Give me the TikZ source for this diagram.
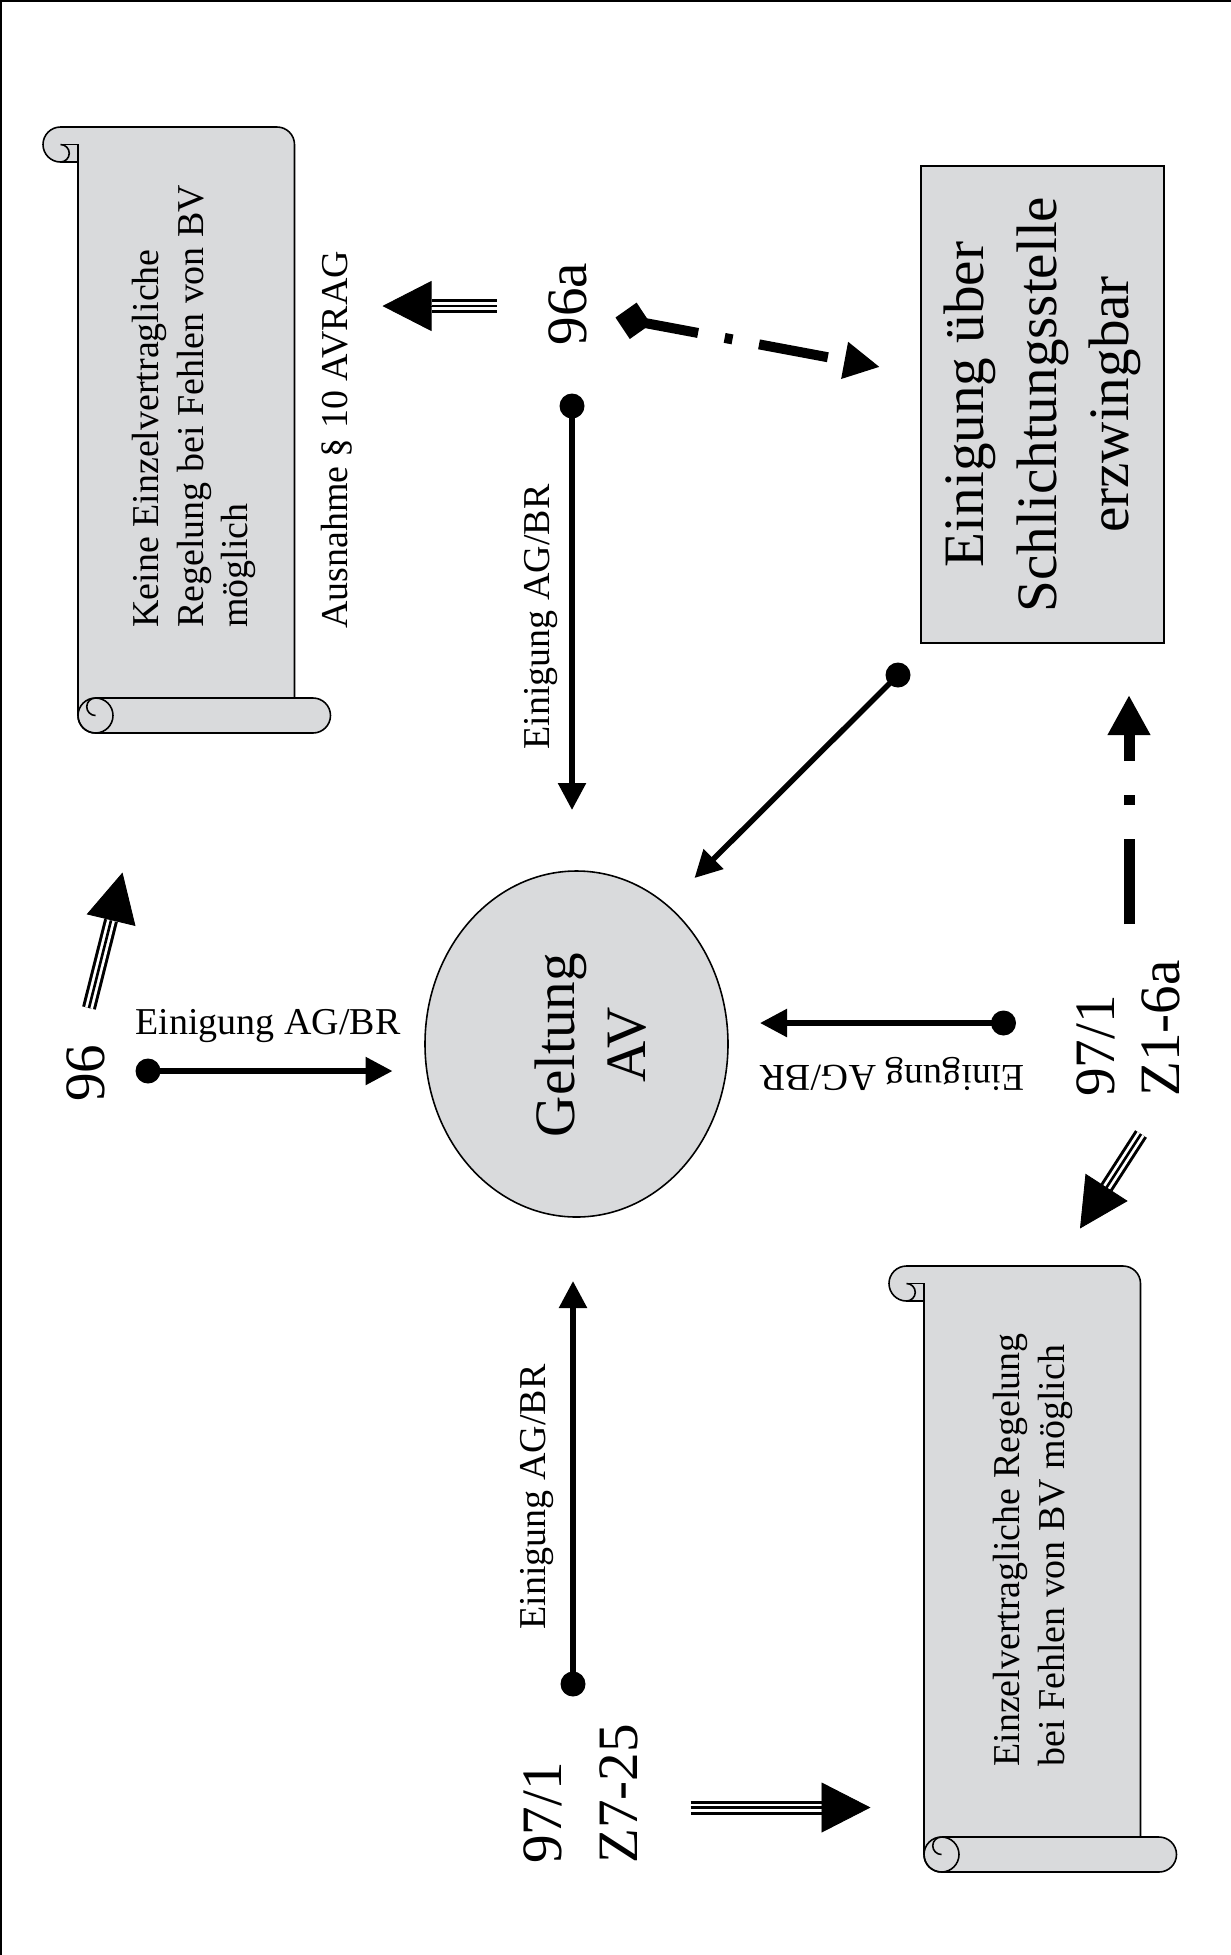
\documentclass[tikz,border=0pt]{standalone}
\usepackage{fontspec}
\setmainfont{Liberation Serif}
\usetikzlibrary{arrows.meta,shapes.geometric}
\definecolor{scrollgray}{RGB}{217,218,220}
\begin{document}
\begin{tikzpicture}
	\tikzstyle{every node}=[inner sep=0pt]
	\tikzstyle{smalltext}=[font={\fontsize{21.6}{25.3}\selectfont}]
	\tikzstyle{bigtext}=[font={\fontsize{32.5}{40.3}\selectfont}]
	\tikzstyle{dotnode}=[circle, fill=black, minimum size=0.5cm]
	\tikzstyle{solidarrow}=[line width=0.11cm, -{Triangle[length=0.54cm,width=0.54cm]}]
	\tikzstyle{fatshaft}=[line width=0.28cm, postaction={draw, white, line width=0.16cm}, postaction={draw, black, line width=0.052cm}]
	\tikzstyle{fathead}=[line width=0.5pt, -{Triangle[length=0.98cm,width=1cm]}]
	\tikzstyle{shapeline}=[draw=black, fill=scrollgray, line width=0.9pt]
	
	\useasboundingbox (0,0) rectangle (24.62,-39.1);
	\draw [line width=0.035cm] (0.0175,-39.1) -- (0.0175,-0.0175) -- (24.62,-0.0175);
	
	% the two scrolls
	\foreach \sx/\sy in {1.56/-2.54, 18.48/-25.32}{
	\begin{scope}[shift={(\sx,\sy)}]
	\draw [shapeline] (-0.35,0) -- (3.98,0) arc[start angle=90,end angle=0,radius=0.35] -- (4.33,-11.42) -- (4.70,-11.42) arc[start angle=90,end angle=-90,radius=0.35] -- (0.35,-12.12) arc[start angle=270,end angle=180,radius=0.35] -- (0,-0.70) -- (-0.35,-0.70) arc[start angle=270,end angle=90,radius=0.35] -- cycle;
	\draw [line width=0.9pt] (-0.35,-0.35) -- (0,-0.35) -- (0,-0.70);
	\draw [line width=0.9pt] (-0.35,-0.35) arc[start angle=90,end angle=-90,radius=0.175];
	\draw [line width=0.9pt] (0.35,-11.42) -- (4.33,-11.42);
	\draw [line width=0.9pt] (0.35,-11.77) circle (0.35);
	\draw [line width=0.9pt] (0.35,-11.77) arc[start angle=270,end angle=90,radius=0.175];
	\end{scope}
	}
	
	\node [smalltext, rotate=90, align=left, anchor=west] (keine) at (3.88,-12.56) {Keine Einzelvertragliche\\Regelung bei Fehlen von BV\\möglich};
	\node [smalltext, rotate=90, align=left, anchor=west] (einzel) at (20.66,-35.34) {Einzelvertragliche Regelung\\bei Fehlen von BV möglich};
	\node [smalltext, rotate=90] (ausnahme) at (6.74,-8.8) {Ausnahme § 10 AVRAG};
	
	% Geltung AV
	\node [shapeline, ellipse, minimum width=6.06cm, minimum height=6.92cm] (av) at (11.53,-20.88) {};
	\node [bigtext, rotate=90, align=center] (avtext) at (11.82,-20.9) {Geltung\\AV};
	
	\node [shapeline, rotate=90, minimum width=9.54cm, minimum height=4.86cm, align=center, font={\fontsize{32.5}{41.4}\selectfont}] (schlichtung) at (20.85,-8.09) {Einigung über\\Schlichtungsstelle\\erzwingbar};
	
	% paragraphs
	\node [bigtext, rotate=90] (p96a) at (11.35,-6.08) {96a};
	\node [bigtext, rotate=90] (p96) at (1.72,-21.46) {96};
	\node [bigtext, rotate=90, align=left, anchor=west, font={\fontsize{32.5}{36.9}\selectfont}] (p971a) at (22.56,-21.94) {97/1\\Z1-6a};
	\node [bigtext, rotate=90, align=left, anchor=west, font={\fontsize{32.5}{43.1}\selectfont}] (p971b) at (11.62,-37.28) {97/1\\Z7-25};
	
	% Einigung AG/BR
	\node [smalltext, rotate=90] (agbr1) at (10.82,-12.34) {Einigung AG/BR};
	\node [smalltext] (agbr2) at (5.36,-20.52) {Einigung AG/BR};
	\node [smalltext, rotate=180] (agbr3) at (17.85,-21.47) {Einigung AG/BR};
	\node [smalltext, rotate=90] (agbr4) at (10.74,-29.94) {Einigung AG/BR};
	
	\node [dotnode] (d1) at (11.44,-8.12) {};
	\node [dotnode] (d2) at (2.96,-21.42) {};
	\node [dotnode] (d3) at (20.07,-20.46) {};
	\node [dotnode] (d4) at (11.46,-33.68) {};
	\node [dotnode] (d5) at (17.96,-13.5) {};
	\coordinate (e1) at (11.44,-16.2);
	\coordinate (e2) at (7.85,-21.42);
	\coordinate (e3) at (15.2,-20.46);
	\coordinate (e4) at (11.46,-25.62);
	\coordinate (e5) at (13.89,-17.56);
	\foreach \i in {1,...,5}
	\draw [solidarrow] (d\i.center) -- (e\i);
	
	% dash-dot arrows
	\coordinate (g1) at (12.31,-6.35);
	\coordinate (g2) at (17.6,-7.34);
	\draw [line width=0.2cm, dash pattern=on 1.4cm off 0.54cm on 0.16cm off 0.54cm, dash phase=0.3cm, {Diamond[length=0.72cm,width=0.74cm]}-{Triangle[length=0.72cm,width=0.7cm]}] (g1) -- (g2);
	\coordinate (v1) at (22.58,-18.48);
	\coordinate (v2) at (22.58,-13.9);
	\draw [line width=0.22cm, dash pattern=on 1.7cm off 0.68cm on 0.2cm off 0.68cm, -{Triangle[length=0.8cm,width=0.8cm]}] (v1) -- (v2);
	
	% triple line arrows
	\coordinate (fs1) at (9.93,-6.12);   \coordinate (fb1) at (8.63,-6.12);   \coordinate (ft1) at (7.65,-6.12);
	\coordinate (fs2) at (1.78,-20.16);  \coordinate (fb2) at (2.22,-18.41);  \coordinate (ft2) at (2.45,-17.45);
	\coordinate (fs3) at (22.82,-22.68); \coordinate (fb3) at (22.13,-23.75); \coordinate (ft3) at (21.6,-24.57);
	\coordinate (fs4) at (13.81,-36.15); \coordinate (fb4) at (16.45,-36.15); \coordinate (ft4) at (17.41,-36.15);
	\foreach \i in {1,...,4}{
	\draw [fatshaft] (fs\i) -- (fb\i);
	\draw [fathead] (fb\i) -- (ft\i);
	}
	
\end{tikzpicture}
\end{document}
